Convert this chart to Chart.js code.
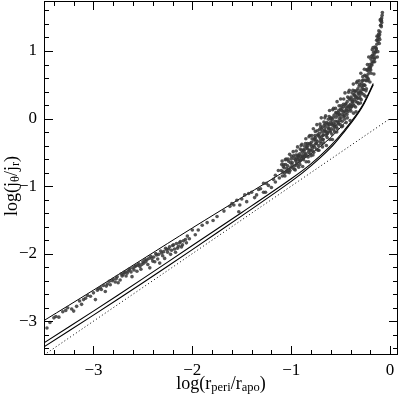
<!DOCTYPE html>
<html>
<head>
<meta charset="utf-8">
<style>
  html, body { margin: 0; padding: 0; background: #fff; }
  #wrap { width: 400px; height: 397px; }
</style>
<script src="https://cdn.jsdelivr.net/npm/chart.js@4.4.1/dist/chart.umd.min.js"></script>
</head>
<body>
<div id="wrap"><canvas id="chart" width="400" height="397"></canvas></div>
<script>
// ─── AXES ─────────────────────────────────────────────────────────────────────
const X_TICKS = [-3, -2, -1, 0];
const Y_TICKS = [-3, -2, -1, 0, 1];
const X_RANGE = [-3.5, 0.08];
const Y_RANGE = [-3.5, 1.74];
const MINOR_STEP = 0.2;

// ─── MODEL CURVES ─────────────────────────────────────────────────────────────
const upperX = [-3.5, -3.0, -2.5, -2.0, -1.5, -1.0, -0.8, -0.6, -0.45];
const upperY = [-2.99, -2.54, -2.08, -1.62, -1.17, -0.72, -0.52, -0.28, -0.05];

const pairX  = [-3.5, -3.0, -2.5, -2.0, -1.5, -1.0, -0.8, -0.6, -0.45, -0.35, -0.27, -0.17];
const pairAY = [-3.32, -2.85, -2.37, -1.88, -1.39, -0.89, -0.67, -0.40, -0.15, 0.04, 0.22, 0.52];
const pairBY = [-3.38, -2.91, -2.43, -1.94, -1.44, -0.93, -0.70, -0.43, -0.17, 0.02, 0.20, 0.50];

const diagX = [-3.5, 0];
const diagY = [-3.5, 0];

// ─── SIMULATED ORBITS ────────────────────────────────────────────────────────
const orbitsLow = [
  [-3.47,-3.10],[-3.44,-3.02],[-3.40,-2.95],[-3.38,-2.93],[-3.35,-2.94],[-3.31,-2.86],
  [-3.28,-2.84],[-3.26,-2.80],[-3.22,-2.82],[-3.20,-2.85],[-3.17,-2.78],[-3.14,-2.70],
  [-3.12,-2.75],[-3.10,-2.68],[-3.08,-2.66],[-3.06,-2.62],[-3.03,-2.63],[-3.00,-2.58],
  [-2.98,-2.68],[-2.96,-2.54],[-2.95,-2.52],[-2.93,-2.50],[-2.92,-2.53],[-2.90,-2.47],
  [-2.88,-2.56],[-2.87,-2.48],[-2.86,-2.45],[-2.84,-2.41],[-2.83,-2.46],[-2.81,-2.40],
  [-2.80,-2.38],[-2.78,-2.42],[-2.77,-2.37],[-2.76,-2.34],[-2.75,-2.43],[-2.73,-2.39],
  [-2.72,-2.30],[-2.71,-2.33],[-2.70,-2.31],[-2.69,-2.28],[-2.68,-2.27],[-2.67,-2.33],
  [-2.66,-2.29],[-2.65,-2.26],[-2.64,-2.24],[-2.63,-2.22],[-2.62,-2.27],[-2.61,-2.34],
  [-2.60,-2.21],[-2.59,-2.24],[-2.58,-2.19],[-2.57,-2.18],[-2.56,-2.26],[-2.55,-2.17],
  [-2.54,-2.15],[-2.53,-2.19],[-2.52,-2.23],[-2.51,-2.16],[-2.50,-2.12],[-2.49,-2.14],
  [-2.48,-2.09],[-2.47,-2.12],[-2.46,-2.09],[-2.45,-2.16],[-2.44,-2.07],[-2.43,-2.21],
  [-2.42,-2.04],[-2.41,-2.07],[-2.40,-2.11],[-2.39,-2.05],[-2.38,-2.12],[-2.37,-2.00],
  [-2.36,-2.02],[-2.35,-2.08],[-2.34,-2.01],[-2.33,-2.14],[-2.32,-1.96],[-2.31,-1.99],
  [-2.30,-2.03],[-2.29,-1.97],[-2.28,-2.07],[-2.27,-1.92],[-2.26,-1.94],[-2.25,-1.98],
  [-2.24,-1.93],[-2.23,-1.90],[-2.22,-2.01],[-2.21,-1.95],[-2.20,-1.88],[-2.19,-1.87],
  [-2.18,-1.93],[-2.17,-1.98],[-2.16,-1.85],[-2.15,-1.92],[-2.14,-1.89],[-2.13,-1.84]
];

const orbitsMid = [
  [-2.12,-1.82],[-2.11,-1.90],[-2.10,-1.87],[-2.09,-1.81],[-2.07,-1.79],[-2.06,-1.84],
  [-2.05,-1.74],[-2.03,-1.78],[-2.00,-1.65],[-1.97,-1.72],[-1.94,-1.65],[-1.90,-1.58],
  [-1.85,-1.54],[-1.79,-1.51],[-1.75,-1.45],[-1.68,-1.37],[-1.62,-1.30],[-1.60,-1.26],
  [-1.58,-1.28],[-1.55,-1.21],[-1.53,-1.38],[-1.52,-1.28],[-1.50,-1.19],[-1.47,-1.13],
  [-1.45,-1.23],[-1.43,-1.11],[-1.40,-1.09],[-1.37,-1.17],[-1.35,-1.13],[-1.33,-1.05],
  [-1.31,-1.04],[-1.28,-0.96],[-1.28,-1.09],[-1.26,-1.09],[-1.25,-0.96],[-1.23,-0.99],
  [-1.20,-1.02],[-1.18,-0.90],[-1.16,-0.84],[-1.16,-0.94],[-1.13,-0.77],[-1.12,-0.88]
];

const orbitsHigh = [
  [-1.100,-0.77],[-1.089,-0.85],[-1.096,-0.68],[-1.084,-0.79],[-1.092,-0.63],
  [-1.080,-0.71],[-1.069,-0.81],[-1.076,-0.68],[-1.064,-0.85],[-1.072,-0.73],
  [-1.060,-0.61],[-1.049,-0.78],[-1.056,-0.68],[-1.044,-0.74],[-1.052,-0.60],
  [-1.040,-0.79],[-1.029,-0.63],[-1.036,-0.70],[-1.024,-0.75],[-1.032,-0.60],
  [-1.020,-0.80],[-1.009,-0.65],[-1.016,-0.53],[-1.004,-0.72],[-1.012,-0.77],
  [-1.000,-0.60],[-0.989,-0.65],[-0.996,-0.56],[-0.984,-0.73],[-0.992,-0.68],
  [-0.980,-0.49],[-0.969,-0.75],[-0.976,-0.55],[-0.964,-0.70],[-0.972,-0.59],
  [-0.960,-0.76],[-0.949,-0.48],[-0.956,-0.61],[-0.944,-0.66],[-0.952,-0.54],
  [-0.940,-0.69],[-0.929,-0.57],[-0.936,-0.42],[-0.924,-0.72],[-0.932,-0.54],
  [-0.920,-0.60],[-0.909,-0.45],[-0.916,-0.64],[-0.904,-0.56],[-0.912,-0.68],
  [-0.900,-0.40],[-0.889,-0.55],[-0.896,-0.47],[-0.884,-0.71],[-0.892,-0.38],
  [-0.880,-0.58],[-0.869,-0.47],[-0.876,-0.61],[-0.864,-0.41],[-0.872,-0.55],
  [-0.860,-0.51],[-0.849,-0.64],[-0.856,-0.37],[-0.844,-0.55],[-0.852,-0.30],
  [-0.840,-0.42],[-0.829,-0.57],[-0.836,-0.37],[-0.824,-0.64],[-0.832,-0.45],
  [-0.820,-0.27],[-0.809,-0.52],[-0.816,-0.37],[-0.804,-0.47],[-0.812,-0.25],
  [-0.800,-0.55],[-0.789,-0.30],[-0.796,-0.41],[-0.784,-0.48],[-0.792,-0.25],
  [-0.780,-0.54],[-0.769,-0.32],[-0.776,-0.15],[-0.764,-0.42],[-0.772,-0.50],
  [-0.760,-0.25],[-0.749,-0.32],[-0.756,-0.19],[-0.744,-0.45],[-0.752,-0.37],
  [-0.740,-0.09],[-0.729,-0.47],[-0.736,-0.18],[-0.724,-0.40],[-0.732,-0.24],
  [-0.720,-0.47],[-0.709,-0.08],[-0.716,-0.27],[-0.704,-0.34],[-0.712,-0.16],
  [-0.700,-0.37],[-0.689,-0.20],[-0.696, 0.01],[-0.684,-0.42],[-0.692,-0.16],
  [-0.680,-0.25],[-0.669,-0.05],[-0.676,-0.31],[-0.664,-0.19],[-0.672,-0.36],
  [-0.660, 0.01],[-0.649,-0.19],[-0.656,-0.08],[-0.644,-0.40],[-0.652, 0.04],
  [-0.640,-0.23],[-0.629,-0.10],[-0.636,-0.28],[-0.624,-0.01],[-0.632,-0.20],
  [-0.620,-0.14],[-0.609,-0.31],[-0.616, 0.03],[-0.604,-0.20],[-0.612, 0.12],
  [-0.600,-0.05],[-0.589,-0.23],[-0.596, 0.01],[-0.584,-0.31],[-0.592,-0.08],
  [-0.580, 0.13],[-0.569,-0.17],[-0.576, 0.01],[-0.564,-0.11],[-0.572, 0.15],
  [-0.560,-0.20],[-0.549, 0.09],[-0.556,-0.04],[-0.544,-0.12],[-0.552, 0.15],
  [-0.540,-0.20],[-0.529, 0.05],[-0.536, 0.25],[-0.524,-0.06],[-0.532,-0.15],
  [-0.520, 0.12],[-0.509, 0.05],[-0.516, 0.19],[-0.504,-0.09],[-0.512, 0.00],
  [-0.500, 0.29],[-0.489,-0.12],[-0.496, 0.19],[-0.484,-0.04],[-0.492, 0.12],
  [-0.480,-0.11],[-0.469, 0.29],[-0.476, 0.10],[-0.464, 0.03],[-0.472, 0.21],
  [-0.460,-0.01],[-0.449, 0.17],[-0.456, 0.38],[-0.444,-0.06],[-0.452, 0.21],
  [-0.440, 0.12],[-0.429, 0.32],[-0.436, 0.06],[-0.424, 0.18],[-0.432, 0.01],
  [-0.420, 0.39],[-0.409, 0.19],[-0.416, 0.30],[-0.404,-0.03],[-0.412, 0.42],
  [-0.400, 0.15],[-0.389, 0.29],[-0.396, 0.11],[-0.384, 0.38],[-0.392, 0.18],
  [-0.380, 0.25],[-0.369, 0.08],[-0.376, 0.42],[-0.364, 0.19],[-0.372, 0.51],
  [-0.360, 0.35],[-0.349, 0.17],[-0.356, 0.41],[-0.344, 0.10],[-0.352, 0.32],
  [-0.340, 0.53],[-0.329, 0.24],[-0.336, 0.41],[-0.324, 0.30],[-0.332, 0.55],
  [-0.320, 0.22],[-0.309, 0.51],[-0.316, 0.38],[-0.304, 0.30],[-0.312, 0.56],
  [-0.300, 0.23],[-0.289, 0.48],[-0.296, 0.67],[-0.284, 0.37],[-0.292, 0.28],
  [-0.280, 0.56],[-0.269, 0.49],[-0.276, 0.62],[-0.264, 0.35],[-0.272, 0.43],
  [-0.260, 0.73],[-0.249, 0.33],[-0.256, 0.64],[-0.244, 0.41],[-0.252, 0.57],
  [-0.240, 0.44],[-0.229, 0.80],[-0.236, 0.62],[-0.224, 0.56],[-0.232, 0.72],
  [-0.220, 0.58],[-0.209, 0.73],[-0.216, 0.91],[-0.204, 0.54],[-0.212, 0.76],
  [-0.200, 0.76],[-0.189, 0.92],[-0.196, 0.72],[-0.184, 0.81],[-0.192, 0.67],
  [-0.180, 1.02],[-0.169, 0.84],[-0.176, 0.94],[-0.164, 0.66],[-0.172, 1.05],
  [-0.160, 0.88],[-0.149, 0.98],[-0.156, 0.84],[-0.144, 1.05],[-0.152, 0.90],
  [-0.140, 1.03],[-0.129, 0.91],[-0.136, 1.16],[-0.124, 0.99],[-0.132, 1.22],
  [-0.120, 1.22],[-0.109, 1.11],[-0.116, 1.25],[-0.104, 1.17],[-0.112, 1.20],
  [-0.100, 1.46],[-0.089, 1.36],[-0.096, 1.38],[-0.084, 1.42],[-0.092, 1.47],
  [-0.090, 1.44],[-0.085, 1.49],[-0.080, 1.53],[-0.078, 1.57]
];

const orbitsCore = [
  [-0.953,-0.63],[-0.946,-0.58],[-0.934,-0.61],[-0.925,-0.55],[-0.913,-0.52],[-0.906,-0.62],
  [-0.893,-0.59],[-0.885,-0.50],[-0.874,-0.46],[-0.866,-0.56],[-0.854,-0.53],[-0.846,-0.44],
  [-0.834,-0.40],[-0.826,-0.50],[-0.814,-0.47],[-0.806,-0.38],[-0.795,-0.35],[-0.786,-0.44],
  [-0.775,-0.40],[-0.766,-0.30],[-0.755,-0.28],[-0.746,-0.37],[-0.735,-0.34],[-0.726,-0.25],
  [-0.715,-0.22],[-0.706,-0.30],[-0.702,-0.12],[-0.694,-0.27],[-0.686,-0.13],[-0.682,-0.31],
  [-0.674,-0.24],[-0.666,-0.10],[-0.662,-0.17],[-0.654,-0.13],[-0.646,-0.25],[-0.642,-0.06],
  [-0.634,-0.22],[-0.626,-0.07],[-0.622,-0.15],[-0.614,-0.09],[-0.606,-0.18],[-0.602, 0.00],
  [-0.594,-0.15],[-0.586,-0.02],[-0.582,-0.10],[-0.574,-0.07],[-0.566, 0.05],[-0.562,-0.13],
  [-0.554,-0.09],[-0.546, 0.02],[-0.542, 0.08],[-0.534,-0.04],[-0.526, 0.09],[-0.522,-0.08],
  [-0.514, 0.07],[-0.506,-0.03],[-0.502, 0.14],[-0.494, 0.01],[-0.486, 0.15],[-0.482, 0.06],
  [-0.474, 0.18],[-0.466, 0.04],[-0.462, 0.11],[-0.454, 0.08],[-0.446, 0.22],[-0.442, 0.14],
  [-0.434, 0.25],[-0.426, 0.10],[-0.422, 0.17],[-0.414, 0.13],[-0.406, 0.28],[-0.402, 0.21],
  [-0.394, 0.32],[-0.386, 0.18],[-0.382, 0.25],[-0.374, 0.21],[-0.366, 0.35],[-0.362, 0.28],
  [-0.354, 0.40],[-0.346, 0.25],[-0.342, 0.33],[-0.334, 0.30],[-0.326, 0.44],[-0.322, 0.37],
  [-0.314, 0.48],[-0.306, 0.34],[-0.302, 0.41],[-0.294, 0.39],[-0.286, 0.52],[-0.282, 0.45],
  [-0.274, 0.57],[-0.266, 0.43],[-0.262, 0.50],[-0.254, 0.49],[-0.246, 0.63],[-0.242, 0.56],
  [-0.234, 0.72],[-0.226, 0.60],[-0.222, 0.66],[-0.214, 0.70],[-0.206, 0.80],[-0.202, 0.75],
  [-0.194, 0.88],[-0.186, 0.79],[-0.182, 0.84],[-0.174, 0.90],[-0.166, 0.98],[-0.162, 0.94],
  [-0.154, 1.06],[-0.146, 0.99],[-0.142, 1.03],[-0.134, 1.10],[-0.126, 1.17],[-0.122, 1.14],
  [-0.114, 1.30],[-0.106, 1.24],[-0.102, 1.28],[-0.094, 1.38],[-0.088, 1.45]
];

// ─── HELPERS ──────────────────────────────────────────────────────────────────
const SERIF = '"Liberation Serif", "DejaVu Serif", serif';
const fmt = (v) => (v < 0 ? '\u2212' + Math.abs(v) : String(v));
const zip = (xs, ys) => xs.map((x, i) => ({ x, y: ys[i] }));
const pts = (arr) => arr.map(([x, y]) => ({ x, y }));

// text with subscripts: parts = [[text, isSub], ...]
function drawRich(ctx, parts, cx, cy) {
  const big = '18px ' + SERIF, small = '12.5px ' + SERIF;
  let w = 0;
  parts.forEach(([t, sub]) => { ctx.font = sub ? small : big; w += ctx.measureText(t).width; });
  let x = cx - w / 2;
  ctx.textBaseline = 'middle';
  ctx.textAlign = 'left';
  parts.forEach(([t, sub]) => {
    ctx.font = sub ? small : big;
    ctx.fillText(t, x, sub ? cy + 4 : cy);
    x += ctx.measureText(t).width;
  });
}

// scales reserve room for edge labels; this frame has none outside the box
function noEdgePadding(s) {
  s.paddingTop = 0; s.paddingBottom = 0; s.paddingLeft = 0; s.paddingRight = 0;
}

// ─── FRAME, INWARD TICKS, AXIS TITLES ────────────────────────────────────────
const framePlugin = {
  id: 'frame',
  afterDraw(chart) {
    const { ctx, chartArea: a, scales: { x, y } } = chart;
    ctx.save();
    ctx.strokeStyle = '#000';
    ctx.lineWidth = 1;
    ctx.strokeRect(a.left + 0.5, a.top + 0.5, a.right - a.left - 1, a.bottom - a.top - 1);

    ctx.beginPath();
    for (let i = Math.ceil(X_RANGE[0] / MINOR_STEP); i * MINOR_STEP <= X_RANGE[1] + 1e-9; i++) {
      const v = +(i * MINOR_STEP).toFixed(2);
      const len = Number.isInteger(v) ? 9 : 5;
      const px = Math.round(x.getPixelForValue(v)) + 0.5;
      ctx.moveTo(px, a.bottom); ctx.lineTo(px, a.bottom - len);
      ctx.moveTo(px, a.top);    ctx.lineTo(px, a.top + len);
    }
    for (let i = Math.ceil(Y_RANGE[0] / MINOR_STEP); i * MINOR_STEP <= Y_RANGE[1] + 1e-9; i++) {
      const v = +(i * MINOR_STEP).toFixed(2);
      const len = Number.isInteger(v) ? 9 : 5;
      const py = Math.round(y.getPixelForValue(v)) + 0.5;
      ctx.moveTo(a.left, py);  ctx.lineTo(a.left + len, py);
      ctx.moveTo(a.right, py); ctx.lineTo(a.right - len, py);
    }
    ctx.stroke();

    ctx.fillStyle = '#000';
    drawRich(ctx, [['log(r', 0], ['peri', 1], ['/r', 0], ['apo', 1], [')', 0]],
      (a.left + a.right) / 2, 384);

    ctx.translate(12, 186);
    ctx.rotate(-Math.PI / 2);
    drawRich(ctx, [['log(j', 0], ['\u03b8', 1], ['/j', 0], ['r', 1], [')', 0]], 0, 0);
    ctx.restore();
  }
};

// ─── CHART ────────────────────────────────────────────────────────────────────
const dotStyle = { pointRadius: 1.8, pointBackgroundColor: 'rgba(55,55,55,0.85)', pointBorderWidth: 0 };
const curve = (data, width, dash) => ({
  data, showLine: true, pointRadius: 0, borderColor: '#000', borderWidth: width,
  borderDash: dash || [], tension: 0.35, fill: false,
});

new Chart(document.getElementById('chart'), {
  type: 'scatter',
  data: {
    datasets: [
      { data: pts(orbitsLow), ...dotStyle },
      { data: pts(orbitsMid), ...dotStyle },
      { data: pts(orbitsHigh), ...dotStyle },
      { data: pts(orbitsCore), ...dotStyle },
      curve(zip(upperX, upperY), 1),
      curve(zip(pairX, pairAY), 1.1),
      curve(zip(pairX, pairBY), 1.1),
      curve(zip(diagX, diagY), 1, [1, 2.5]),
    ],
  },
  options: {
    responsive: false,
    animation: false,
    layout: { autoPadding: false, padding: { top: 1, right: 2, left: 0, bottom: 0 } },
    plugins: { legend: { display: false }, tooltip: { enabled: false } },
    scales: {
      x: {
        type: 'linear', min: X_RANGE[0], max: X_RANGE[1],
        afterBuildTicks: (s) => { s.ticks = X_TICKS.map((v) => ({ value: v })); },
        afterFit: (s) => { s.height = 42; noEdgePadding(s); },
        grid: { display: false, drawTicks: false },
        border: { display: false },
        ticks: { padding: 5, color: '#000', font: { family: SERIF, size: 17 }, callback: fmt, maxRotation: 0, autoSkip: false },
      },
      y: {
        type: 'linear', min: Y_RANGE[0], max: Y_RANGE[1],
        afterBuildTicks: (s) => { s.ticks = Y_TICKS.map((v) => ({ value: v })); },
        afterFit: (s) => { s.width = 44; noEdgePadding(s); },
        grid: { display: false, drawTicks: false },
        border: { display: false },
        ticks: { padding: 7, color: '#000', font: { family: SERIF, size: 17 }, callback: fmt, autoSkip: false },
      },
    },
  },
  plugins: [framePlugin],
});
</script>
</body>
</html>
